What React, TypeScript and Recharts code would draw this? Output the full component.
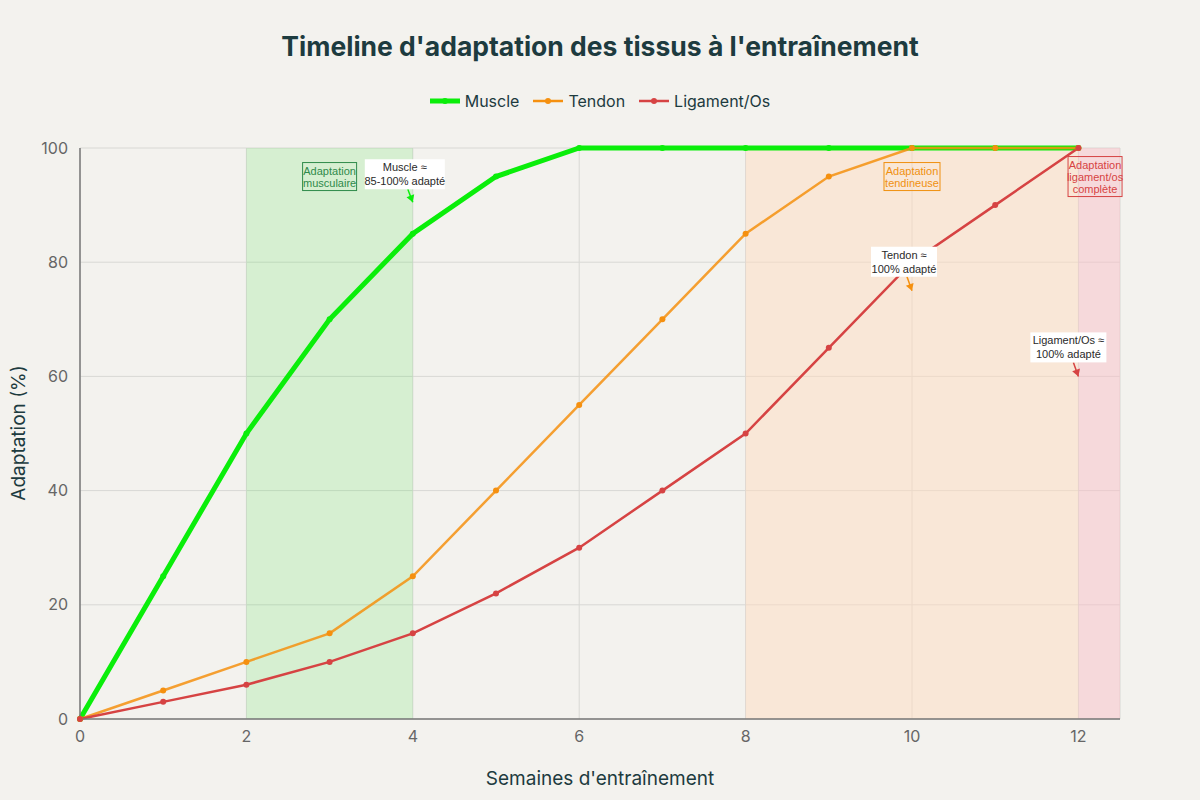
import React from "react";
import {
	LineChart,
	Line,
	XAxis,
	YAxis,
	CartesianGrid,
	ReferenceArea,
	ReferenceDot,
} from "recharts";

const WEEKS = [0, 1, 2, 3, 4, 5, 6, 7, 8, 9, 10, 11, 12];
const MUSCLE = [0, 25, 50, 70, 85, 95, 100, 100, 100, 100, 100, 100, 100];
const TENDON = [0, 5, 10, 15, 25, 40, 55, 70, 85, 95, 100, 100, 100];
const LIGAMENT = [0, 3, 6, 10, 15, 22, 30, 40, 50, 65, 80, 90, 100];

const X_TICKS = [0, 2, 4, 6, 8, 10, 12];
const Y_TICKS = [0, 20, 40, 60, 80, 100];

const FONT = "Inter, 'Open Sans', sans-serif";
const NOTE_FONT = "'Liberation Sans', Arial, sans-serif";
const INK = "#1d3b3f";
const GREEN = "#0aee0a";
const ORANGE = "#f5900f";
const RED = "#d64343";

const SERIES = [
	{ key: "muscle", name: "Muscle", color: GREEN, width: 5, values: MUSCLE },
	{ key: "tendon", name: "Tendon", color: ORANGE, width: 2.5, values: TENDON },
	{ key: "ligament", name: "Ligament/Os", color: RED, width: 2.5, values: LIGAMENT },
];

const chartData = WEEKS.map((w, i) => ({
	week: w,
	muscle: MUSCLE[i],
	tendon: TENDON[i],
	ligament: LIGAMENT[i],
}));

// label box with arrow pointing at (cx, cy)
function arrowNote(lines: string[], dx: number, dy: number, w: number, color: string) {
	return (props: any) => {
		const { cx, cy } = props;
		const lx = cx + dx;
		const ly = cy + dy;
		const h = lines.length * 14 + 2;
		const sx = cx - 5;
		const sy = ly + h / 2;
		const ang = Math.atan2(cy - sy, cx - sx);
		const a1 = ang + 2.6;
		const a2 = ang - 2.6;
		return (
			<g>
				<line x1={sx} y1={sy} x2={cx} y2={cy} stroke={color} strokeWidth={1.5} />
				<polygon
					points={`${cx},${cy} ${cx + 8 * Math.cos(a1)},${cy + 8 * Math.sin(a1)} ${cx + 8 * Math.cos(a2)},${cy + 8 * Math.sin(a2)}`}
					fill={color}
				/>
				<rect x={lx - w / 2} y={ly - h / 2} width={w} height={h} fill="#ffffff" />
				{lines.map((l, i) => (
					<text
						key={i}
						x={lx}
						y={ly - h / 2 + 12 + i * 14}
						textAnchor="middle"
						fontSize={11}
						fontFamily={NOTE_FONT}
						fill="#2a2a2a"
					>
						{l}
					</text>
				))}
			</g>
		);
	};
}

function boxNote(lines: string[], w: number, color: string) {
	return (props: any) => {
		const { cx, cy } = props;
		const h = lines.length * 12 + 4;
		return (
			<g>
				<rect
					x={cx - w / 2}
					y={cy - h / 2}
					width={w}
					height={h}
					fill="none"
					stroke={color}
					strokeWidth={1}
				/>
				{lines.map((l, i) => (
					<text
						key={i}
						x={cx}
						y={cy - h / 2 + 12 + i * 12}
						textAnchor="middle"
						fontSize={11}
						fontFamily={NOTE_FONT}
						fill={color}
					>
						{l}
					</text>
				))}
			</g>
		);
	};
}

function LegendRow() {
	return (
		<div
			style={{
				position: "absolute",
				top: 91,
				left: 0,
				width: 1200,
				display: "flex",
				justifyContent: "center",
				gap: 14,
				fontFamily: FONT,
				fontSize: 16,
				color: INK,
			}}
		>
			{SERIES.map((s) => (
				<div key={s.key} style={{ display: "flex", alignItems: "center", gap: 5 }}>
					<svg width={30} height={12}>
						<line x1={0} y1={6} x2={30} y2={6} stroke={s.color} strokeWidth={s.width} />
						<circle cx={15} cy={6} r={3} fill={s.color} />
					</svg>
					<span>{s.name}</span>
				</div>
			))}
		</div>
	);
}

export default function App() {
	return (
		<div
			style={{
				position: "absolute",
				left: 0,
				top: 0,
				width: 1200,
				height: 800,
				background: "#f3f2ee",
				fontFamily: FONT,
			}}
		>
			<div
				style={{
					position: "absolute",
					top: 30,
					width: 1200,
					textAlign: "center",
					fontSize: 26.5,
					fontWeight: 700,
					color: INK,
				}}
			>
				Timeline d'adaptation des tissus à l'entraînement
			</div>
			<LegendRow />
			<div
				style={{
					position: "absolute",
					left: 3,
					top: 433,
					transform: "translate(0,-50%) rotate(-90deg)",
					transformOrigin: "center",
					width: 30,
					display: "flex",
					justifyContent: "center",
				}}
			>
				<span style={{ whiteSpace: "nowrap", fontSize: 19, color: INK }}>Adaptation (%)</span>
			</div>
			<div
				style={{
					position: "absolute",
					top: 767,
					left: 80,
					width: 1040,
					textAlign: "center",
					fontSize: 19,
					color: INK,
				}}
			>
				Semaines d'entraînement
			</div>
			<div style={{ position: "absolute", left: 0, top: 0 }}>
				<LineChart
					width={1200}
					height={800}
					data={chartData}
					margin={{ top: 148, right: 80, left: 40, bottom: 51 }}
				>
					<ReferenceArea x1={2} x2={4} y1={0} y2={100} fill="#3fe03f" fillOpacity={0.16} stroke="none" />
					<ReferenceArea x1={8} x2={12} y1={0} y2={100} fill="#ffdcc0" fillOpacity={0.5} stroke="none" />
					<ReferenceArea x1={12} x2={12.5} y1={0} y2={100} fill="#fac0c8" fillOpacity={0.5} stroke="none" />
					<CartesianGrid stroke="#d8d8d4" strokeWidth={1} />
					<XAxis
						dataKey="week"
						type="number"
						domain={[0, 12.5]}
						ticks={X_TICKS}
						height={30}
						tick={{ fontSize: 16, fill: "#666", fontFamily: FONT }}
						tickLine={false}
						axisLine={{ stroke: "#777", strokeWidth: 1.5 }}
						tickMargin={6}
					/>
					<YAxis
						type="number"
						domain={[0, 100]}
						ticks={Y_TICKS}
						width={40}
						tick={{ fontSize: 16, fill: "#666", fontFamily: FONT }}
						tickLine={false}
						axisLine={{ stroke: "#777", strokeWidth: 1.5 }}
						tickMargin={6}
					/>
					{SERIES.map((s) => (
						<Line
							key={s.key}
							type="linear"
							dataKey={s.key}
							name={s.name}
							stroke={s.color}
							strokeWidth={s.width}
							strokeOpacity={s.key === "tendon" ? 0.85 : 1}
							dot={{ r: 3, fill: s.color, stroke: s.color, strokeWidth: 0 }}
							isAnimationActive={false}
						/>
					))}
					<ReferenceDot x={3} y={95} r={0} shape={boxNote(["Adaptation", "musculaire"], 54, "#2f8a4a")} />
					<ReferenceDot x={10} y={95} r={0} shape={boxNote(["Adaptation", "tendineuse"], 56, "#f0900f")} />
					<ReferenceDot
						x={12.2}
						y={95}
						r={0}
						shape={boxNote(["Adaptation", "ligament/os", "complète"], 54, "#d64343")}
					/>
					<ReferenceDot x={4} y={90.5} r={0} shape={arrowNote(["Muscle ≈", "85-100% adapté"], -8, -28, 80, GREEN)} />
					<ReferenceDot x={10} y={75} r={0} shape={arrowNote(["Tendon ≈", "100% adapté"], -8, -29, 66, ORANGE)} />
					<ReferenceDot x={12} y={60} r={0} shape={arrowNote(["Ligament/Os ≈", "100% adapté"], -10, -29, 76, RED)} />
				</LineChart>
			</div>
		</div>
	);
}
